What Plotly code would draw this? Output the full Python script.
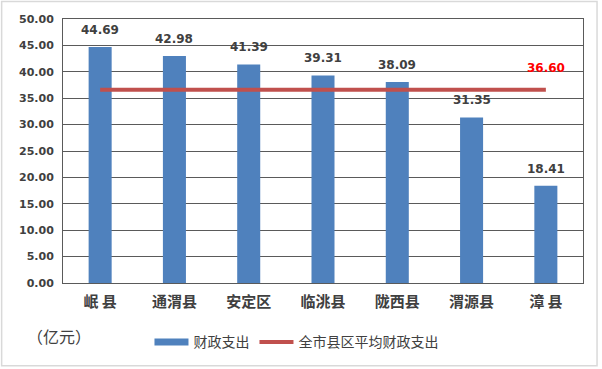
import plotly.graph_objects as go

categories = ["岷 县", "通渭县", "安定区", "临洮县", "陇西县", "渭源县", "漳 县"]
spending = [44.69, 42.98, 41.39, 39.31, 38.09, 31.35, 18.41]
average = [36.60] * len(categories)
y_ticks = [0, 5, 10, 15, 20, 25, 30, 35, 40, 45, 50]
y_tick_labels = [f"{v:.2f}" for v in y_ticks]

BLUE = "#4F81BD"
RED = "#C0504D"
TXT = "#404040"
GRID = "#5A5A5A"
NUMFONT = "DejaVu Sans"
CJK = "Noto Sans CJK SC"

fig = go.Figure()
fig.add_trace(go.Bar(
    x=categories, y=spending, name="财政支出", showlegend=False,
    marker=dict(color=BLUE, line=dict(width=0)), width=0.31,
))
# legend entry for the bars drawn as a wide block
fig.add_trace(go.Scatter(
    x=[None], y=[None], name="财政支出", mode="lines",
    line=dict(color=BLUE, width=7), showlegend=True,
))
fig.add_trace(go.Scatter(
    x=categories, y=average, name="全市县区平均财政支出",
    mode="lines", line=dict(color=RED, width=4),
))

for c, v in zip(categories, spending):
    fig.add_annotation(x=c, y=v, text=f"<b>{v:.2f}</b>", showarrow=False,
                       yanchor="bottom", yshift=8,
                       font=dict(family=NUMFONT, size=12, color=TXT))
fig.add_annotation(x=categories[-1], y=average[-1], text=f"<b>{average[-1]:.2f}</b>",
                   showarrow=False, yanchor="bottom", yshift=13,
                   font=dict(family=NUMFONT, size=12, color="#FF0000"))

fig.add_annotation(xref="paper", yref="paper", x=-0.073, y=-0.2, xanchor="left",
                   yanchor="middle", text="（亿元）", showarrow=False,
                   font=dict(family=CJK, size=16, color=TXT))

fig.add_shape(type="rect", xref="paper", yref="paper",
              x0=-0.118, x1=1.027, y0=-0.313, y1=1.066,
              line=dict(color="#D9D9D9", width=1.5), layer="below")

fig.update_layout(
    width=602, height=369,
    margin=dict(l=63, r=19, t=19, b=85),
    paper_bgcolor="white", plot_bgcolor="white",
    bargap=0.69,
    showlegend=True,
    legend=dict(orientation="h", x=0.449, xanchor="center", y=-0.22, yanchor="middle",
                font=dict(family=CJK, size=14, color=TXT), itemwidth=34,
                tracegroupgap=0, bgcolor="rgba(0,0,0,0)"),
    xaxis=dict(showline=True, linecolor=GRID, linewidth=1, mirror=True,
               ticks="", tickfont=dict(family=CJK, size=15, color=TXT, weight="bold"),
               ticklabelstandoff=5, showgrid=False),
    yaxis=dict(range=[0, 50], tickvals=y_ticks, ticktext=y_tick_labels,
               showline=True, linecolor=GRID, linewidth=1, mirror=True,
               showgrid=True, gridcolor=GRID, gridwidth=1,
               ticks="", zeroline=False, ticklabelstandoff=6,
               tickfont=dict(family=NUMFONT, size=11, color=TXT, weight="bold")),
)

fig.write_html("out.html", config={"displayModeBar": False},
               post_script="document.body.style.margin='0';document.body.style.overflow='hidden';")
